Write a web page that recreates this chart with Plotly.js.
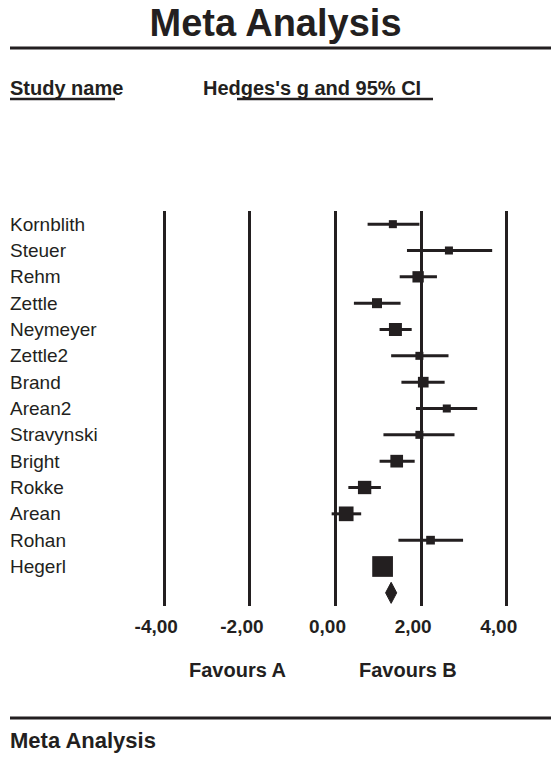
<!DOCTYPE html>
<html>
<head>
<meta charset="utf-8">
<script src="https://cdn.plot.ly/plotly-3.0.1.min.js"></script>
<style>html,body{margin:0;padding:0;background:#fff;}#chart{width:551px;height:757px;}</style>
</head>
<body>
<div id="chart"></div>
<script>
// ---- data ----
var studies = ["Kornblith","Steuer","Rehm","Zettle","Neymeyer","Zettle2","Brand","Arean2","Stravynski","Bright","Rokke","Arean","Rohan","Hegerl"];
var hedgesG = [1.34, 2.65, 1.93, 0.97, 1.40, 1.96, 2.05, 2.60, 1.96, 1.43, 0.68, 0.25, 2.22, 1.10];
var ciLower = [0.75, 1.67, 1.50, 0.43, 1.03, 1.30, 1.54, 1.88, 1.12, 1.03, 0.30, -0.09, 1.47, 0.96];
var ciUpper = [1.96, 3.66, 2.37, 1.52, 1.78, 2.64, 2.55, 3.31, 2.78, 1.85, 1.06, 0.60, 2.98, 1.24];
var weightPct = [3.4, 3.4, 6.8, 5.3, 8.9, 3.4, 6.0, 3.4, 3.4, 8.5, 9.4, 11.4, 4.0, 22.7];
var summaryG = 1.30, summaryLower = 1.17, summaryUpper = 1.43;
var tickValues = [-4, -2, 0, 2, 4];
var tickLabels = ["-4,00", "-2,00", "0,00", "2,00", "4,00"];

// ---- styling ----
var ink = '#231f20';
var FONT = 'Arial, "Liberation Sans", Helvetica, sans-serif';
var rows = studies.map(function(_, i){ return i; });
var summaryRow = studies.length;

var traces = [
  {
    type: 'scatter', mode: 'markers',
    x: hedgesG, y: rows,
    marker: {symbol: 'square', color: ink, opacity: 1, size: weightPct.map(function(w){ return Math.sqrt(w) * 4.35; }), line: {width: 0}},
    error_x: {
      type: 'data', symmetric: false,
      array: ciUpper.map(function(u, i){ return u - hedgesG[i]; }),
      arrayminus: ciLower.map(function(l, i){ return hedgesG[i] - l; }),
      thickness: 3, width: 0, color: ink
    },
    hoverinfo: 'skip', showlegend: false
  },
  {
    type: 'scatter', mode: 'lines',
    x: [summaryLower, summaryG, summaryUpper, summaryG, summaryLower],
    y: [summaryRow, summaryRow - 0.4, summaryRow, summaryRow + 0.4, summaryRow],
    fill: 'toself', fillcolor: ink, line: {color: ink, width: 1},
    hoverinfo: 'skip', showlegend: false
  }
];

// pixel -> paper helpers (plot area: x 160..511, y 211..606)
function px(p){ return (p - 160) / 351; }
function py(p){ return (606 - p) / 395; }

var annotations = studies.map(function(name, i){
  return {text: name, x: px(8), xref: 'paper', xanchor: 'left', y: i, yref: 'y', yanchor: 'middle',
          showarrow: false, font: {family: FONT, size: 19, color: ink}};
});
annotations.push(
  {text: '<b>Study name</b>', x: px(8), xref: 'paper', xanchor: 'left', y: py(88), yref: 'paper', yanchor: 'middle', showarrow: false, font: {family: FONT, size: 20, color: ink}},
  {text: "<b>Hedges's g and 95% CI</b>", x: px(201), xref: 'paper', xanchor: 'left', y: py(88), yref: 'paper', yanchor: 'middle', showarrow: false, font: {family: FONT, size: 20, color: ink}},
  {text: '<b>Favours A</b>', x: -2.28, xref: 'x', xanchor: 'center', y: py(670), yref: 'paper', yanchor: 'middle', showarrow: false, font: {family: FONT, size: 20, color: ink}},
  {text: '<b>Favours B</b>', x: 1.70, xref: 'x', xanchor: 'center', y: py(670), yref: 'paper', yanchor: 'middle', showarrow: false, font: {family: FONT, size: 20, color: ink}},
  {text: '<b>Meta Analysis</b>', x: px(8), xref: 'paper', xanchor: 'left', y: py(740), yref: 'paper', yanchor: 'middle', showarrow: false, font: {family: FONT, size: 22, color: ink}}
);

var shapes = [
  {type: 'line', xref: 'paper', yref: 'paper', x0: px(10), x1: px(551), y0: py(48), y1: py(48), line: {color: ink, width: 3}},
  {type: 'line', xref: 'paper', yref: 'paper', x0: px(10), x1: px(551), y0: py(718), y1: py(718), line: {color: ink, width: 3}},
  {type: 'line', xref: 'paper', yref: 'paper', x0: px(10), x1: px(115), y0: py(99), y1: py(99), line: {color: ink, width: 2.5}},
  {type: 'line', xref: 'paper', yref: 'paper', x0: px(237), x1: px(433), y0: py(99), y1: py(99), line: {color: ink, width: 2.5}}
];

var layout = {
  width: 551, height: 757,
  paper_bgcolor: '#ffffff', plot_bgcolor: '#ffffff',
  margin: {l: 160, r: 40, t: 211, b: 151},
  title: {text: '<b>Meta Analysis</b>', x: 0.5, xref: 'container', xanchor: 'center', y: 1 - 23/757, yref: 'container', yanchor: 'middle',
          font: {family: FONT, size: 38, color: ink}},
  xaxis: {
    range: [-4.1, 4.1], tickmode: 'array', tickvals: tickValues, ticktext: tickLabels,
    showgrid: true, gridcolor: ink, gridwidth: 3, zeroline: true, zerolinecolor: ink, zerolinewidth: 3,
    showline: false, ticks: '', ticklabelstandoff: 7, ticklabelshift: -8,
    tickfont: {family: FONT, size: 19, color: ink, weight: 'bold'}, fixedrange: true
  },
  yaxis: {
    range: [summaryRow + 0.5, -0.5], showgrid: false, zeroline: false, showticklabels: false, showline: false, ticks: '', fixedrange: true
  },
  annotations: annotations,
  shapes: shapes,
  showlegend: false,
  hovermode: false
};

Plotly.newPlot('chart', traces, layout, {displayModeBar: false, staticPlot: true});
</script>
</body>
</html>
